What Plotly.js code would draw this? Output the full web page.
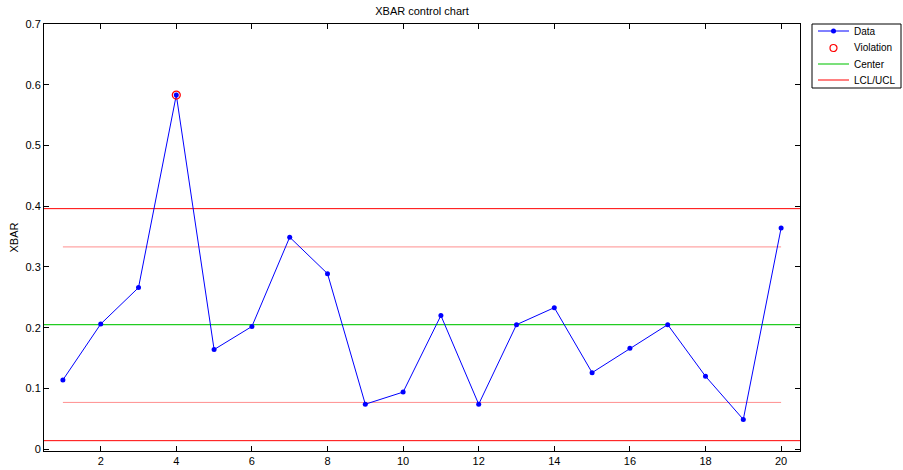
<!DOCTYPE html>
<html>
<head>
<meta charset="utf-8">
<script src="https://cdn.plot.ly/plotly-3.0.1.min.js"></script>
<style>html,body{margin:0;padding:0;background:#fff;}#chart{width:903px;height:470px;}</style>
</head>
<body>
<div id="chart"></div>
<script>
// ---- data ----
const samples = [1,2,3,4,5,6,7,8,9,10,11,12,13,14,15,16,17,18,19,20];
const xbar = [0.114,0.206,0.266,0.583,0.164,0.202,0.349,0.289,0.074,0.094,0.220,0.074,0.205,0.233,0.126,0.166,0.205,0.120,0.049,0.364];
const violationSamples = [4];
const violationValues = [0.583];
const centerValue = 0.205;
const ucl = 0.396;
const lcl = 0.014;
const upperWarning = 0.333;
const lowerWarning = 0.077;
const xTickVals = [2,4,6,8,10,12,14,16,18,20];
const yTickVals = [0,0.1,0.2,0.3,0.4,0.5,0.6,0.7];
const legendLabels = ['Data','Violation','Center','LCL/UCL'];

// ---- layout constants ----
const W = 903, H = 470;
const M = {l: 44, r: 103, t: 24, b: 19};
const plotW = W - M.l - M.r, plotH = H - M.t - M.b;
const px2x = p => (p - M.l) / plotW;
const px2y = p => (H - M.b - p) / plotH;

const xRange = [0.5, 20.5];
const xFirst = samples[0], xLast = samples[samples.length-1];

const font = {family: '"Liberation Sans", Arial, Helvetica, sans-serif', size: 11, color: '#000'};
const legFont = {family: font.family, size: 10, color: '#000'};

const colData = '#0000ff', colViol = '#ff0000', colCenter = '#22cc22', colLimit = '#ff0000', colWarn = '#ff8f8f';

const traces = [
  {x: [xFirst, xLast, null, xFirst, xLast], y: [upperWarning, upperWarning, null, lowerWarning, lowerWarning],
   mode: 'lines', line: {color: colWarn, width: 1}, hoverinfo: 'skip'},
  {x: xRange, y: [centerValue, centerValue], name: 'Center', mode: 'lines',
   line: {color: colCenter, width: 1.2}},
  {x: [xRange[0], xRange[1], null, xRange[0], xRange[1]], y: [ucl, ucl, null, lcl, lcl], name: 'LCL/UCL', mode: 'lines',
   line: {color: colLimit, width: 1}},
  {x: samples, y: xbar, name: 'Data', mode: 'lines+markers',
   line: {color: colData, width: 1}, marker: {color: colData, size: 5}},
  {x: violationSamples, y: violationValues, name: 'Violation', mode: 'markers',
   marker: {symbol: 'circle-open', color: colViol, size: 8, line: {width: 1.2, color: colViol}}}
];

// ---- manual legend (MATLAB style) ----
const legBox = {x0: 812, x1: 901, y0: 24, y1: 88};
const legRowY = [31, 48, 64, 80];
const legLineX = [818, 849], legMarkX = 833.5, legTextX = 852;
const shapes = [
  {type: 'rect', xref: 'paper', yref: 'paper', x0: px2x(legBox.x0), x1: px2x(legBox.x1), y0: px2y(legBox.y1), y1: px2y(legBox.y0),
   line: {color: '#000', width: 1}, fillcolor: '#fff', layer: 'above'},
  {type: 'line', xref: 'paper', yref: 'paper', x0: px2x(legLineX[0]), x1: px2x(legLineX[1]), y0: px2y(legRowY[0]), y1: px2y(legRowY[0]),
   line: {color: colData, width: 1}, layer: 'above'},
  {type: 'circle', xref: 'paper', yref: 'paper', xsizemode: 'pixel', ysizemode: 'pixel',
   xanchor: px2x(legMarkX), yanchor: px2y(legRowY[0]), x0: -2.5, x1: 2.5, y0: -2.5, y1: 2.5,
   line: {color: colData, width: 0}, fillcolor: colData, layer: 'above'},
  {type: 'circle', xref: 'paper', yref: 'paper', xsizemode: 'pixel', ysizemode: 'pixel',
   xanchor: px2x(legMarkX), yanchor: px2y(legRowY[1]), x0: -3.5, x1: 3.5, y0: -3.5, y1: 3.5,
   line: {color: colViol, width: 1.2}, fillcolor: 'rgba(0,0,0,0)', layer: 'above'},
  {type: 'line', xref: 'paper', yref: 'paper', x0: px2x(legLineX[0]), x1: px2x(legLineX[1]), y0: px2y(legRowY[2]), y1: px2y(legRowY[2]),
   line: {color: colCenter, width: 1.2}, layer: 'above'},
  {type: 'line', xref: 'paper', yref: 'paper', x0: px2x(legLineX[0]), x1: px2x(legLineX[1]), y0: px2y(legRowY[3]), y1: px2y(legRowY[3]),
   line: {color: colLimit, width: 1}, layer: 'above'}
];
const annotations = legendLabels.map((t, i) => ({
  text: t, xref: 'paper', yref: 'paper', x: px2x(legTextX), y: px2y(legRowY[i]),
  xanchor: 'left', yanchor: 'middle', showarrow: false, font: legFont
}));

const axisCommon = {
  showgrid: false, zeroline: false, showline: true, linecolor: '#000', linewidth: 1,
  mirror: 'ticks', ticks: 'inside', ticklen: 5, tickcolor: '#000', tickwidth: 1,
  tickfont: font
};

const layout = {
  width: W, height: H,
  margin: {l: M.l, r: M.r, t: M.t, b: M.b, pad: 0},
  paper_bgcolor: '#fff', plot_bgcolor: '#fff',
  font: font,
  showlegend: false,
  title: {text: 'XBAR control chart', font: font, x: 0.5, xref: 'paper', y: 1 - 11/470, yref: 'container', yanchor: 'middle'},
  xaxis: Object.assign({}, axisCommon, {range: xRange, tickvals: xTickVals, ticktext: xTickVals.map(String)}),
  yaxis: Object.assign({}, axisCommon, {range: [-0.003, 0.7], tickvals: yTickVals, ticktext: yTickVals.map(v => String(v)),
    title: {text: 'XBAR', font: font, standoff: 4}}),
  shapes: shapes,
  annotations: annotations
};

Plotly.newPlot('chart', traces, layout, {displayModeBar: false, staticPlot: true});
</script>
</body>
</html>
